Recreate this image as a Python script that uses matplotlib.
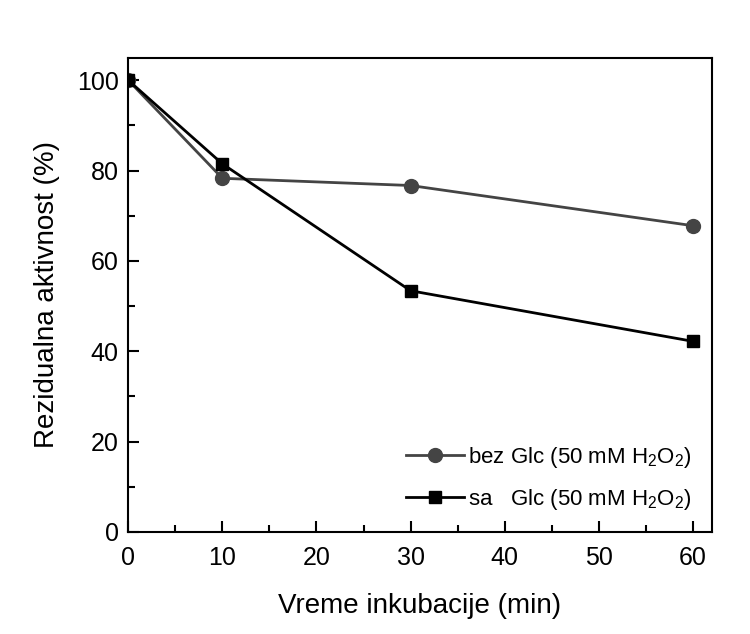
import matplotlib.pyplot as plt
from matplotlib.ticker import MultipleLocator

plt.rcParams["font.family"] = ["Liberation Sans", "DejaVu Sans"]
plt.rcParams["mathtext.fontset"] = "custom"
plt.rcParams["mathtext.rm"] = "Liberation Sans"

time_min = [0, 10, 30, 60]
bez_glc = [100, 78.3, 76.7, 67.8]
sa_glc = [100, 81.5, 53.4, 42.2]

fig = plt.figure(figsize=(7.5, 6.34), dpi=100)
ax = fig.add_axes([0.171, 0.161, 0.778, 0.748])

ax.plot(time_min, bez_glc, color="#444444", lw=2, marker="o", ms=10,
        label=r"bez Glc (50 mM H$_2$O$_2$)")
ax.plot(time_min, sa_glc, color="black", lw=2, marker="s", ms=9,
        label=r"sa   Glc (50 mM H$_2$O$_2$)")

ax.set_xlim(0, 62)
ax.set_ylim(0, 105)
ax.xaxis.set_major_locator(MultipleLocator(10))
ax.xaxis.set_minor_locator(MultipleLocator(5))
ax.yaxis.set_major_locator(MultipleLocator(20))
ax.yaxis.set_minor_locator(MultipleLocator(10))
ax.tick_params(which="both", direction="in", labelsize=18, width=1.5)
ax.tick_params(which="major", length=8)
ax.tick_params(which="minor", length=5)
ax.tick_params(axis="x", pad=10)
ax.tick_params(axis="y", pad=7)
for s in ax.spines.values():
    s.set_linewidth(1.5)

ax.set_xlabel("Vreme inkubacije (min)", fontsize=20, labelpad=17)
ax.set_ylabel("Rezidualna aktivnost (%)", fontsize=20, labelpad=12)

ax.legend(loc="lower right", frameon=False, fontsize=16, handlelength=2.6,
          handletextpad=0.2, borderaxespad=0.5, labelspacing=0.75,
          bbox_to_anchor=(1.0, 0.0))

fig.savefig("out.png", dpi=100)
